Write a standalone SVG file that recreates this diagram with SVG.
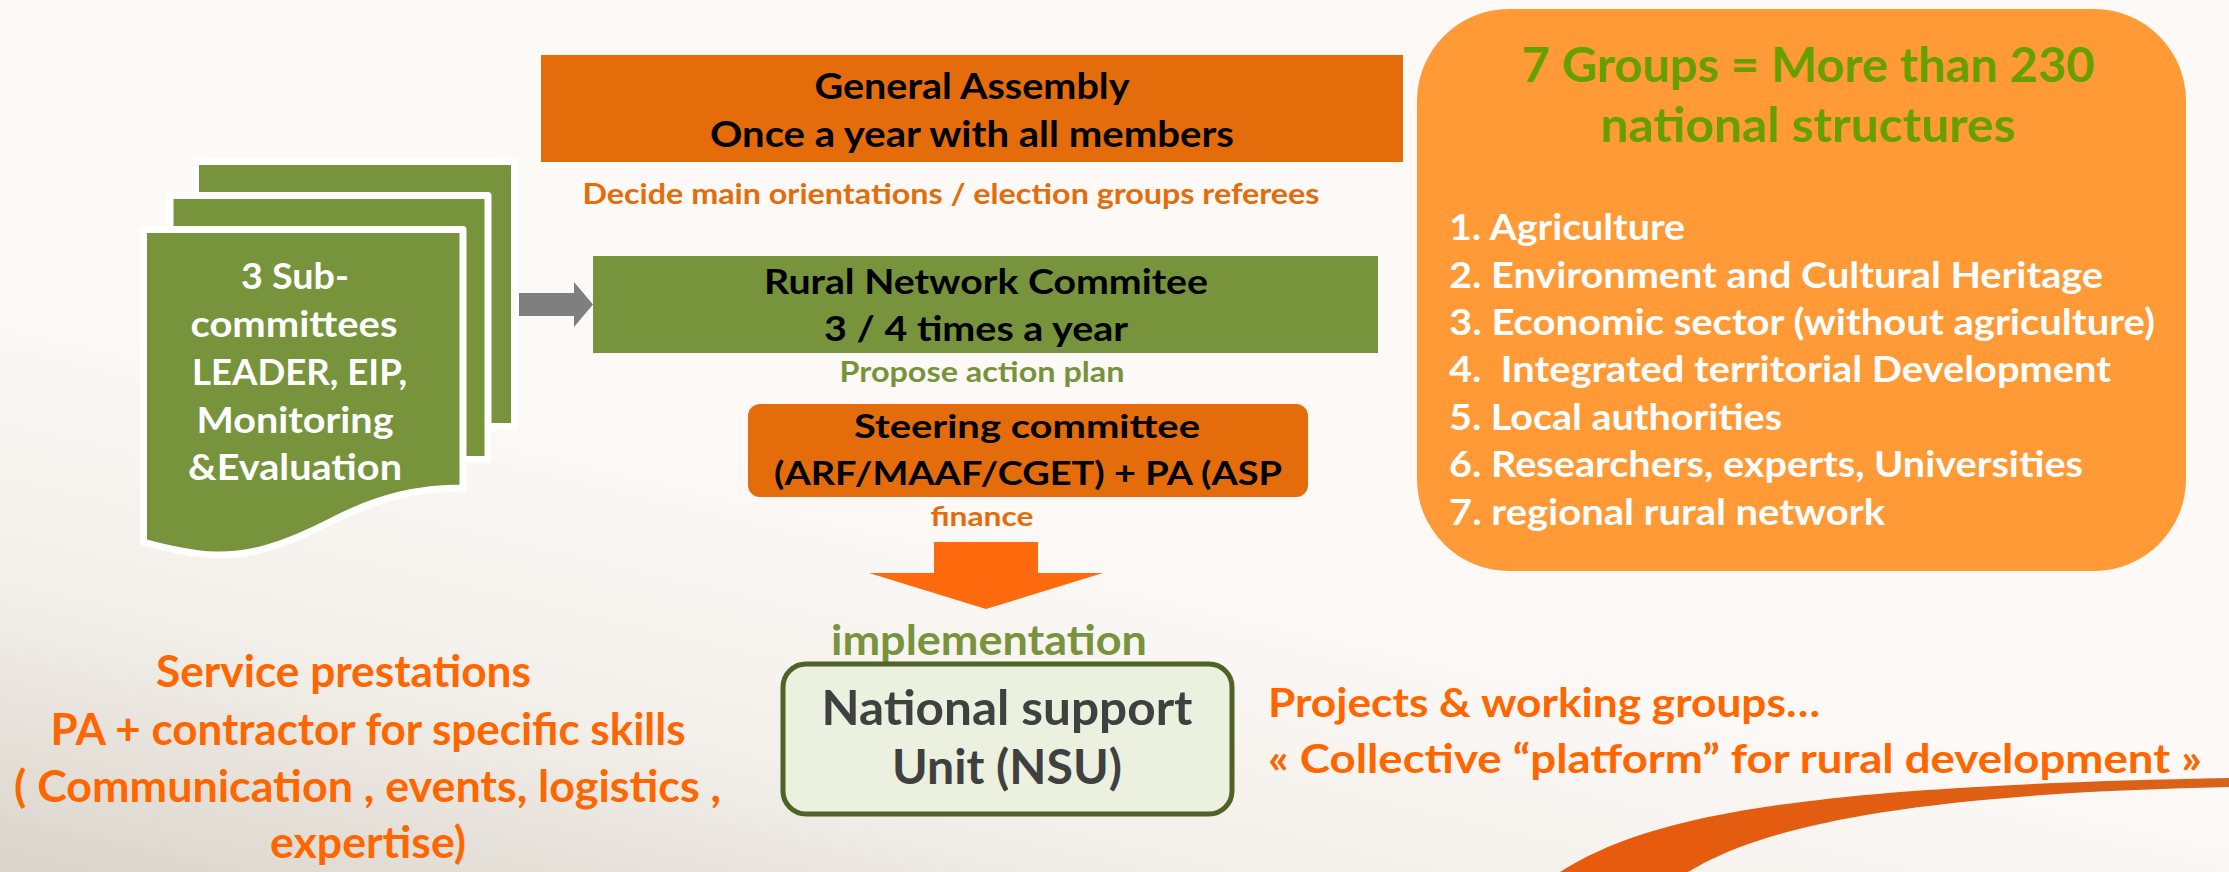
<svg xmlns="http://www.w3.org/2000/svg" width="2229" height="872" viewBox="0 0 2229 872">
<defs>
<linearGradient id="bg" x1="0" y1="1" x2="0.6" y2="0">
<stop offset="0" stop-color="#D9D5CB"/>
<stop offset="0.25" stop-color="#F3EFEA"/>
<stop offset="0.5" stop-color="#FDF9F7"/>
<stop offset="1" stop-color="#FDF9F7"/>
</linearGradient>
<linearGradient id="sw" x1="0" y1="0" x2="1" y2="0">
<stop offset="0" stop-color="#E85A0C"/>
<stop offset="1" stop-color="#D9621A"/>
</linearGradient>
<style>
text{font-family:Lato,"Liberation Sans",sans-serif;font-weight:bold;}
.c{text-anchor:middle;}
.blk{fill:#000;}
.wht{fill:#fff;}
.org{fill:#E46C0A;}
.grn{fill:#77933C;}
.brt{fill:#FF6600;}
.boxo{fill:#E46C0A;}
.boxg{fill:#77933C;}
.page{fill:#77933C;stroke:#fff;stroke-width:7;stroke-linejoin:round;}
</style>
</defs>
<rect x="0" y="0" width="2229" height="872" fill="url(#bg)"/>
<path d="M1560,872 C1650,815 1800,786 2229,778 L2229,787 C1900,794 1760,828 1688,872 Z" fill="url(#sw)"/>

<g id="subcommittees">
<rect class="page" x="195.5" y="161.5" width="319" height="265"/>
<rect class="page" x="170" y="195.5" width="318" height="264"/>
<path class="page" d="M143.5,229.5 H463 V488 C420,488 380,496 330,522 C285,545 250,556 215,555 C190,554 165,548 143.5,542 Z"/>
<text class="c wht" font-size="36" x="295" y="289" textLength="108" lengthAdjust="spacingAndGlyphs">3 Sub-</text>
<text class="c wht" font-size="36" x="294" y="337" textLength="207" lengthAdjust="spacingAndGlyphs">committees</text>
<text class="c wht" font-size="36" x="299.5" y="385" textLength="215" lengthAdjust="spacingAndGlyphs">LEADER, EIP,</text>
<text class="c wht" font-size="36" x="295" y="433" textLength="197" lengthAdjust="spacingAndGlyphs">Monitoring</text>
<text class="c wht" font-size="36" x="295" y="480" textLength="214" lengthAdjust="spacingAndGlyphs">&amp;Evaluation</text>
</g>

<g id="general-assembly">
<rect class="boxo" x="541" y="55" width="862" height="107"/>
<text class="c blk" font-size="36" x="972" y="99" textLength="315" lengthAdjust="spacingAndGlyphs">General Assembly</text>
<text class="c blk" font-size="36" x="972" y="147" textLength="524" lengthAdjust="spacingAndGlyphs">Once a year with all members</text>
</g>
<g id="decide-label">
<text class="c org" font-size="29" x="951" y="204" textLength="737" lengthAdjust="spacingAndGlyphs">Decide main orientations / election groups referees</text>
</g>

<g id="rural-network-committee">
<rect class="boxg" x="593" y="256" width="785" height="97"/>
<text class="c blk" font-size="35" x="986" y="294" textLength="444" lengthAdjust="spacingAndGlyphs">Rural Network Commitee</text>
<text class="c blk" font-size="35" x="976" y="341" textLength="304" lengthAdjust="spacingAndGlyphs">3 / 4 times a year</text>
</g>
<g id="propose-label">
<text class="c grn" font-size="28" x="982" y="382" textLength="285" lengthAdjust="spacingAndGlyphs">Propose action plan</text>
</g>

<g id="steering-committee">
<rect class="boxo" x="748" y="404" width="560" height="93" rx="12"/>
<text class="c blk" font-size="33" x="1027" y="438" textLength="346" lengthAdjust="spacingAndGlyphs">Steering committee</text>
<text class="c blk" font-size="33" x="1028" y="485" textLength="508" lengthAdjust="spacingAndGlyphs">(ARF/MAAF/CGET) + PA (ASP</text>
</g>
<g id="finance-label">
<text class="c org" font-size="27" x="982" y="526" textLength="103" lengthAdjust="spacingAndGlyphs">finance</text>
</g>

<g id="implementation-label">
<text class="c grn" font-size="42" x="989" y="655" textLength="316" lengthAdjust="spacingAndGlyphs">implementation</text>
</g>

<g id="nsu">
<rect x="783" y="664" width="449" height="150" rx="23" fill="#EBF1DE" stroke="#4F6228" stroke-width="5"/>
<text class="c" fill="#404040" font-size="47" x="1007" y="725" textLength="371" lengthAdjust="spacingAndGlyphs">National support</text>
<text class="c" fill="#404040" font-size="47" x="1007" y="784" textLength="230" lengthAdjust="spacingAndGlyphs">Unit (NSU)</text>
</g>

<g id="groups">
<rect x="1417" y="9" width="769" height="562" rx="92" fill="#FF9A36"/>
<text class="c" fill="#66A000" font-size="47" x="1808" y="82" textLength="573" lengthAdjust="spacingAndGlyphs">7 Groups = More than 230</text>
<text class="c" fill="#66A000" font-size="47" x="1808" y="142" textLength="415" lengthAdjust="spacingAndGlyphs">national structures</text>
<text class="wht" font-size="36" x="1449" y="240" textLength="236" lengthAdjust="spacingAndGlyphs">1. Agriculture</text>
<text class="wht" font-size="36" x="1449" y="288" textLength="654" lengthAdjust="spacingAndGlyphs">2. Environment and Cultural Heritage</text>
<text class="wht" font-size="36" x="1449" y="335" textLength="706" lengthAdjust="spacingAndGlyphs">3. Economic sector (without agriculture)</text>
<text class="wht" font-size="36" x="1449" y="382" textLength="662" lengthAdjust="spacingAndGlyphs" xml:space="preserve">4.  Integrated territorial Development</text>
<text class="wht" font-size="36" x="1449" y="430" textLength="333" lengthAdjust="spacingAndGlyphs">5. Local authorities</text>
<text class="wht" font-size="36" x="1449" y="477" textLength="634" lengthAdjust="spacingAndGlyphs">6. Researchers, experts, Universities</text>
<text class="wht" font-size="36" x="1449" y="525" textLength="436" lengthAdjust="spacingAndGlyphs">7. regional rural network</text>
</g>

<g id="service-prestations">
<text class="c brt" font-size="43" x="343.5" y="687" textLength="375" lengthAdjust="spacingAndGlyphs">Service prestations</text>
<text class="c brt" font-size="43" x="368" y="745" textLength="635" lengthAdjust="spacingAndGlyphs">PA + contractor for specific skills</text>
<text class="c brt" font-size="43" x="367.5" y="802" textLength="707" lengthAdjust="spacingAndGlyphs">( Communication , events, logistics ,</text>
<text class="c brt" font-size="43" x="368" y="858" textLength="196" lengthAdjust="spacingAndGlyphs">expertise)</text>
</g>

<g id="projects">
<text class="brt" font-size="40" x="1268" y="717" textLength="552" lengthAdjust="spacingAndGlyphs">Projects &amp; working groups…</text>
<text class="brt" font-size="40" x="1268" y="773" textLength="934" lengthAdjust="spacingAndGlyphs">« Collective “platform” for rural development »</text>
</g>

<g id="connectors">
<path d="M519,293 H574 V282 L593,304.5 L574,327 V316 H519 Z" fill="#7F7F7F"/>
<path d="M934,542 H1038 V573 H1103 L986,609 L869,573 H934 Z" fill="#FF6A0E"/>
</g>
</svg>
